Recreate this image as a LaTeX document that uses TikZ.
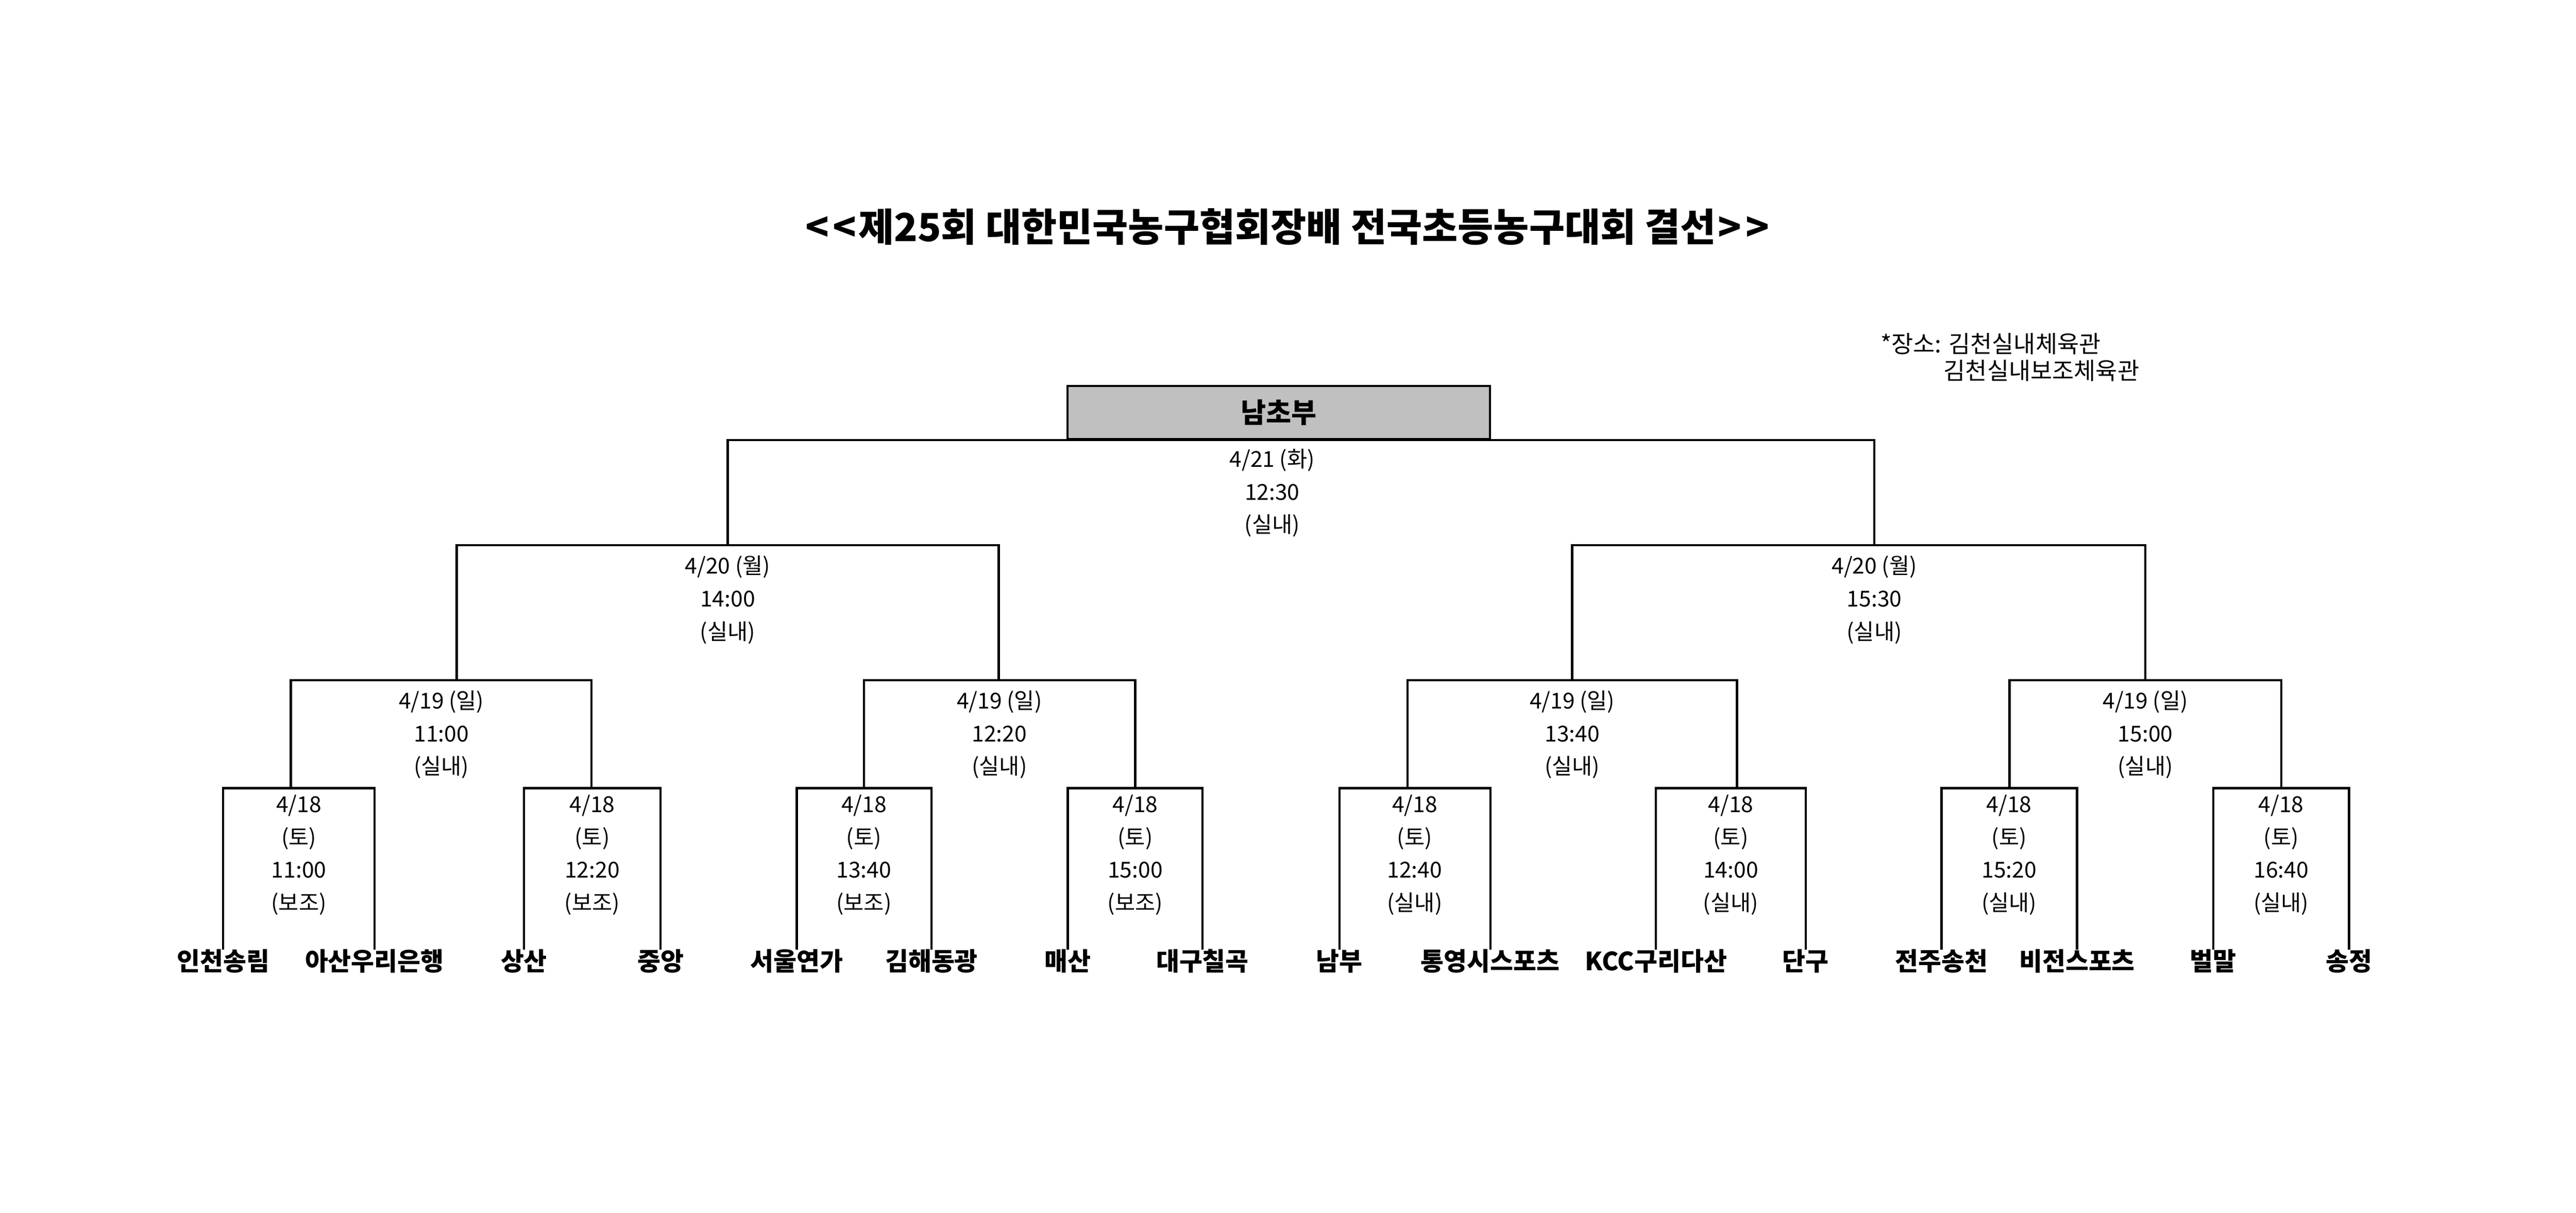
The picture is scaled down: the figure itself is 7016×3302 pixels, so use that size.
\documentclass[tikz,border=0pt]{standalone}
\usepackage{fontspec}
\setmainfont{Noto Sans CJK KR}
\definecolor{boxgray}{RGB}{192,192,192}
\newcommand{\infolines}[1]{\begin{tabular}[t]{@{}c@{}}#1\end{tabular}}
\begin{document}
\begin{tikzpicture}[x=0.01cm,y=-0.01cm,
  ln/.style={line width=1.7pt,line join=miter},
  info/.style={font=\fontsize{17}{25.4}\selectfont,inner sep=0pt,anchor=base},
  team/.style={font=\fontsize{19.5}{23}\selectfont\bfseries,inner sep=0pt,anchor=north,text height=15.9pt,text depth=3pt},
  champbox/.style={draw,line width=1.7pt,fill=boxgray,minimum width=11.5cm,minimum height=1.44cm,inner sep=0pt,font=\fontsize{21.3}{25}\selectfont\bfseries},
  titletext/.style={font=\fontsize{30}{36}\selectfont\bfseries,inner sep=0pt},
  venue/.style={font=\fontsize{18.3}{22}\selectfont,inner sep=0pt,anchor=west}]
\useasboundingbox[fill=white] (0,0) rectangle (7016,3302);

% title and venue
\node[titletext] (title) at (3506,617) {<\kern0.1em<\kern0.05em제25회 대한민국농구협회장배 전국초등농구대회 결선\kern0.05em>\kern0.1em>};
\node[venue] (venue1) at (5121,937) {*장소: 김천실내체육관};
\node[venue] (venue2) at (5293,1010) {김천실내보조체육관};

% champion box
\node[champbox] (champ) at (3483,1123) {남초부};

% teams
\node[team] (t1)  at (608,2586)  {인천송림};
\node[team] (t2)  at (1020,2586) {아산우리은행};
\node[team] (t3)  at (1427,2586) {상산};
\node[team] (t4)  at (1799,2586) {중앙};
\node[team] (t5)  at (2170,2586) {서울연가};
\node[team] (t6)  at (2537,2586) {김해동광};
\node[team] (t7)  at (2908,2586) {매산};
\node[team] (t8)  at (3275,2586) {대구칠곡};
\node[team] (t9)  at (3648,2586) {남부};
\node[team] (t10) at (4059,2586) {통영시스포츠};
\node[team] (t11) at (4510,2586) {KCC구리다산};
\node[team] (t12) at (4918,2586) {단구};
\node[team] (t13) at (5288,2586) {전주송천};
\node[team] (t14) at (5657,2586) {비전스포츠};
\node[team] (t15) at (6028,2586) {벌말};
\node[team] (t16) at (6398,2586) {송정};

% junctions
\coordinate (c1) at (792,2146);
\coordinate (c2) at (1611,2146);
\coordinate (c3) at (2353,2146);
\coordinate (c4) at (3092,2146);
\coordinate (c5) at (3834,2146);
\coordinate (c6) at (4731,2146);
\coordinate (c7) at (5473,2146);
\coordinate (c8) at (6213,2146);
\coordinate (q1) at (1244,1852);
\coordinate (q2) at (2720,1852);
\coordinate (q3) at (4282,1852);
\coordinate (q4) at (5843,1852);
\coordinate (s1) at (1982,1485);
\coordinate (s2) at (5105,1485);

% first round brackets
\draw[ln] (t1.north) |- (c1) -| (t2.north);
\draw[ln] (t3.north) |- (c2) -| (t4.north);
\draw[ln] (t5.north) |- (c3) -| (t6.north);
\draw[ln] (t7.north) |- (c4) -| (t8.north);
\draw[ln] (t9.north) |- (c5) -| (t10.north);
\draw[ln] (t11.north) |- (c6) -| (t12.north);
\draw[ln] (t13.north) |- (c7) -| (t14.north);
\draw[ln] (t15.north) |- (c8) -| (t16.north);
% quarter-final brackets
\draw[ln] (c1) |- (q1) -| (c2);
\draw[ln] (c3) |- (q2) -| (c4);
\draw[ln] (c5) |- (q3) -| (c6);
\draw[ln] (c7) |- (q4) -| (c8);
% semi-final brackets
\draw[ln] (q1) |- (s1) -| (q2);
\draw[ln] (q3) |- (s2) -| (q4);
% final bracket
\draw[ln] (s1) |- (champ.south) -| (s2);
\node[champbox] (champtop) at (champ.center) {남초부};

% match information
\node[info] (fin) at (3465,1272) {\infolines{4/21 (화)\\12:30\\(실내)}};
\node[info] (sf1) at (1982,1563) {\infolines{4/20 (월)\\14:00\\(실내)}};
\node[info] (sf2) at (5105,1563) {\infolines{4/20 (월)\\15:30\\(실내)}};
\node[info] (qf1) at (1202,1930) {\infolines{4/19 (일)\\11:00\\(실내)}};
\node[info] (qf2) at (2722,1930) {\infolines{4/19 (일)\\12:20\\(실내)}};
\node[info] (qf3) at (4282,1930) {\infolines{4/19 (일)\\13:40\\(실내)}};
\node[info] (qf4) at (5843,1930) {\infolines{4/19 (일)\\15:00\\(실내)}};
\node[info] (r1) at (814,2212)  {\infolines{4/18\\(토)\\11:00\\(보조)}};
\node[info] (r2) at (1613,2212) {\infolines{4/18\\(토)\\12:20\\(보조)}};
\node[info] (r3) at (2353,2212) {\infolines{4/18\\(토)\\13:40\\(보조)}};
\node[info] (r4) at (3092,2212) {\infolines{4/18\\(토)\\15:00\\(보조)}};
\node[info] (r5) at (3853,2212) {\infolines{4/18\\(토)\\12:40\\(실내)}};
\node[info] (r6) at (4714,2212) {\infolines{4/18\\(토)\\14:00\\(실내)}};
\node[info] (r7) at (5472,2212) {\infolines{4/18\\(토)\\15:20\\(실내)}};
\node[info] (r8) at (6213,2212) {\infolines{4/18\\(토)\\16:40\\(실내)}};
\end{tikzpicture}
\end{document}
